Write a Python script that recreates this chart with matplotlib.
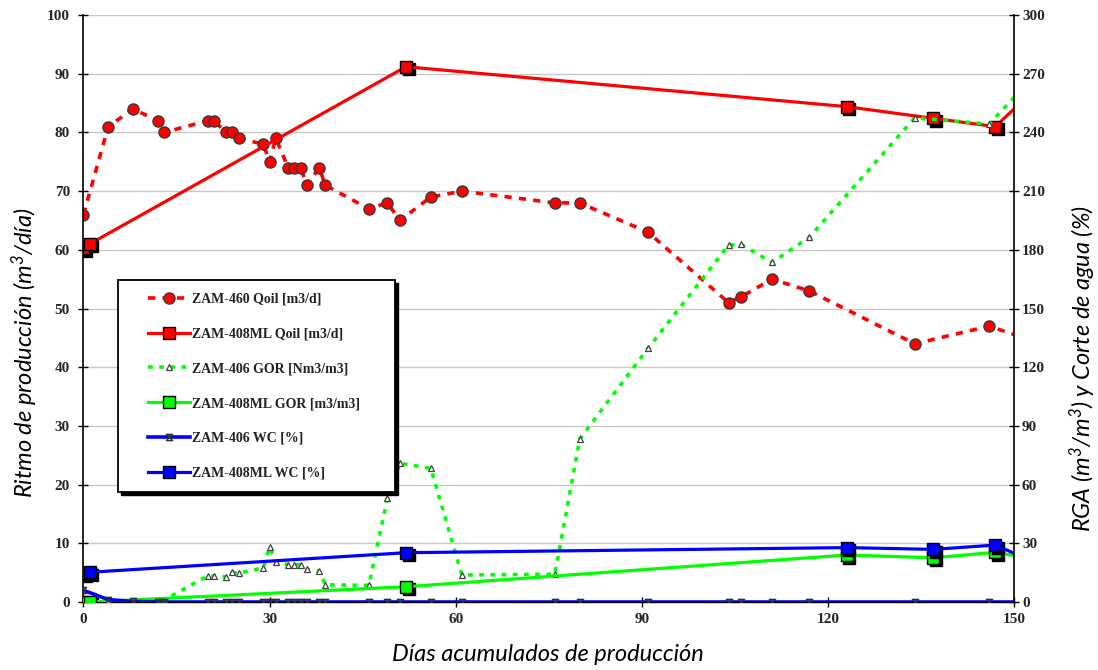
import matplotlib.pyplot as plt
import matplotlib.transforms as mtransforms
from matplotlib.path import Path
from matplotlib.patches import Rectangle

plt.rcParams['mathtext.fontset'] = 'custom'
plt.rcParams['mathtext.rm'] = 'Lato:italic'
plt.rcParams['mathtext.it'] = 'Lato:italic'

# dias de medicion pozos ZAM-460 / ZAM-406 (el ultimo queda fuera del eje)
dias_med = [0, 4, 8, 12, 13, 20, 21, 23, 24, 25, 29, 30, 31, 33, 34, 35, 36, 38, 39,
            46, 49, 51, 56, 61, 76, 80, 91, 104, 106, 111, 117, 134, 146, 153]
qoil_460 = [66, 81, 84, 82, 80, 82, 82, 80, 80, 79, 78, 75, 79, 74, 74, 74, 71, 74, 71,
            67, 68, 65, 69, 70, 68, 68, 63, 51, 52, 55, 53, 44, 47, 44.5]
gor_406 = [0, 0, 0, 0, 1, 13.3, 13.3, 12.9, 15.2, 14.7, 17.5, 28, 20.5, 19.1, 19.1, 19.1, 16.7, 15.7, 8.8,
           8.5, 53, 70.9, 68.3, 13.8, 14.2, 83.3, 129.6, 182.4, 182.8, 173.6, 186.4, 247.5, 244.3, 268]
wc_406 = [6, 1.2, 0.3, 0, 0, 0, 0, 0, 0, 0, 0, 0, 0, 0, 0, 0, 0, 0, 0,
          0, 0, 0, 0, 0, 0, 0, 0, 0, 0, 0, 0, 0, 0, 0]

# pozo ZAM-408ML
dias_408 = [0, 1, 52, 123, 137, 147, 155]
qoil_408 = [60.3, 61, 91.2, 84.4, 82.4, 81.0, 89]
gor_408 = [0, 0, 7.8, 24.0, 22.6, 25.4, 21]
wc_408 = [14.8, 15.2, 25.2, 27.8, 26.9, 29.1, 18]

xticks = [0, 30, 60, 90, 120, 150]
yticks_izq = [0, 10, 20, 30, 40, 50, 60, 70, 80, 90, 100]
yticks_der = [0, 30, 60, 90, 120, 150, 180, 210, 240, 270, 300]

ROJO, VERDE, AZUL = '#ff0000', '#00ff00', '#0000ff'

# marcador tipo reloj de arena (x con barras)
reloj = Path([(-1, -1), (1, 1), (-1, 1), (1, -1), (-1, -1)])

fig = plt.figure(figsize=(10.98, 6.70), dpi=100)
ax = fig.add_axes([0.076, 0.1015, 0.8475, 0.876])
ax2 = ax.twinx()

sombra = mtransforms.offset_copy(ax.transData, fig=fig, x=2.5, y=-2.5, units='dots')
sombra2 = mtransforms.offset_copy(ax2.transData, fig=fig, x=2.5, y=-2.5, units='dots')

# Qoil (eje izquierdo)
h1, = ax.plot(dias_med, qoil_460, color=ROJO, lw=2.6, dashes=(2, 2), marker='o', ms=8,
              mfc=ROJO, mec='#3a3a3a', mew=1, label='ZAM-460 Qoil [m3/d]')
ax.plot(dias_408, qoil_408, ls='none', marker='s', ms=8.5, mfc='black', mec='black', transform=sombra)
h2, = ax.plot(dias_408, qoil_408, color=ROJO, lw=2.3, marker='s', ms=8.5,
              mfc=ROJO, mec='black', mew=1, label='ZAM-408ML Qoil [m3/d]')

# GOR y WC (eje derecho)
h3, = ax2.plot(dias_med, gor_406, color=VERDE, lw=2.6, dashes=(1.3, 1.8), marker='^', ms=4.5,
               mfc='white', mec='#404040', mew=0.9, label='ZAM-406 GOR [Nm3/m3]')
ax2.plot(dias_408, gor_408, ls='none', marker='s', ms=8.5, mfc='black', mec='black', transform=sombra2)
h4, = ax2.plot(dias_408, gor_408, color=VERDE, lw=2.3, marker='s', ms=8.5,
               mfc=VERDE, mec='black', mew=1, label='ZAM-408ML GOR [m3/m3]')
h5, = ax2.plot(dias_med, wc_406, color=AZUL, lw=2.6, marker=reloj, ms=4.5,
               mfc='none', mec='#303030', mew=1, label='ZAM-406 WC [%]')
ax2.plot(dias_408, wc_408, ls='none', marker='s', ms=8.5, mfc='black', mec='black', transform=sombra2)
h6, = ax2.plot(dias_408, wc_408, color=AZUL, lw=2.3, marker='s', ms=8.5,
               mfc=AZUL, mec='black', mew=1, label='ZAM-408ML WC [%]')

ax.set_xlim(0, 150)
ax.set_ylim(0, 100)
ax2.set_ylim(0, 300)
ax.set_xticks(xticks)
ax.set_yticks(yticks_izq)
ax2.set_yticks(yticks_der)

ax.yaxis.grid(True, color='#c8c8c8', lw=1)
ax.set_axisbelow(True)

for s in ['top', 'right']:
    ax.spines[s].set_visible(False)
for s in ['top', 'left', 'bottom']:
    ax2.spines[s].set_visible(False)
ax.spines['left'].set_linewidth(1.2)
ax.spines['bottom'].set_linewidth(1.0)
ax2.spines['right'].set_linewidth(1.2)

ax.tick_params(axis='y', direction='inout', length=6.5, width=1, pad=6.5, labelsize=11, labelcolor='#262626')
ax.tick_params(axis='x', direction='inout', length=6.5, width=1, pad=5, labelsize=11, labelcolor='#262626')
ax2.tick_params(axis='y', direction='inout', length=6.5, width=1, pad=2.5, labelsize=11, labelcolor='#262626')
for lab in ax.get_xticklabels() + ax.get_yticklabels() + ax2.get_yticklabels():
    lab.set_fontfamily('Liberation Serif')
    lab.set_fontweight('bold')

fuente_eje = dict(family='Lato', style='italic', size=17, color='black')
ax.set_xlabel('Días acumulados de producción', va='center', **fuente_eje)
ax.xaxis.set_label_coords(0.499, -0.090)
ax.set_ylabel('Ritmo de producción (m$^3$/día)', va='center', **fuente_eje)
ax.yaxis.set_label_coords(-0.063, 0.424)
ax2.set_ylabel('RGA (m$^3$/m$^3$) y Corte de agua (%)', va='center', rotation=90, **fuente_eje)
ax2.yaxis.set_label_coords(1.074, 0.398)

# cuadro de leyenda con sombra
ax2.add_patch(Rectangle((0.0371 + 0.0032, 0.1874 - 0.0051), 0.2977, 0.3612, transform=ax2.transAxes,
                        facecolor='black', edgecolor='black', zorder=10, clip_on=False))
ax2.add_patch(Rectangle((0.0371, 0.1874), 0.2977, 0.3612, transform=ax2.transAxes,
                        facecolor='white', edgecolor='black', lw=1.3, zorder=11, clip_on=False))
leg = ax2.legend(handles=[h1, h2, h3, h4, h5, h6], loc='upper left', bbox_to_anchor=(0.0693, 0.527),
                 frameon=False, borderpad=0, borderaxespad=0, handlelength=3.0, handletextpad=0.15,
                 labelspacing=1.57, prop=dict(family='Liberation Serif', weight='bold', size=10))
leg.set_zorder(12)
for t in leg.get_texts():
    t.set_color('#222222')

fig.savefig('out.png', dpi=100)
